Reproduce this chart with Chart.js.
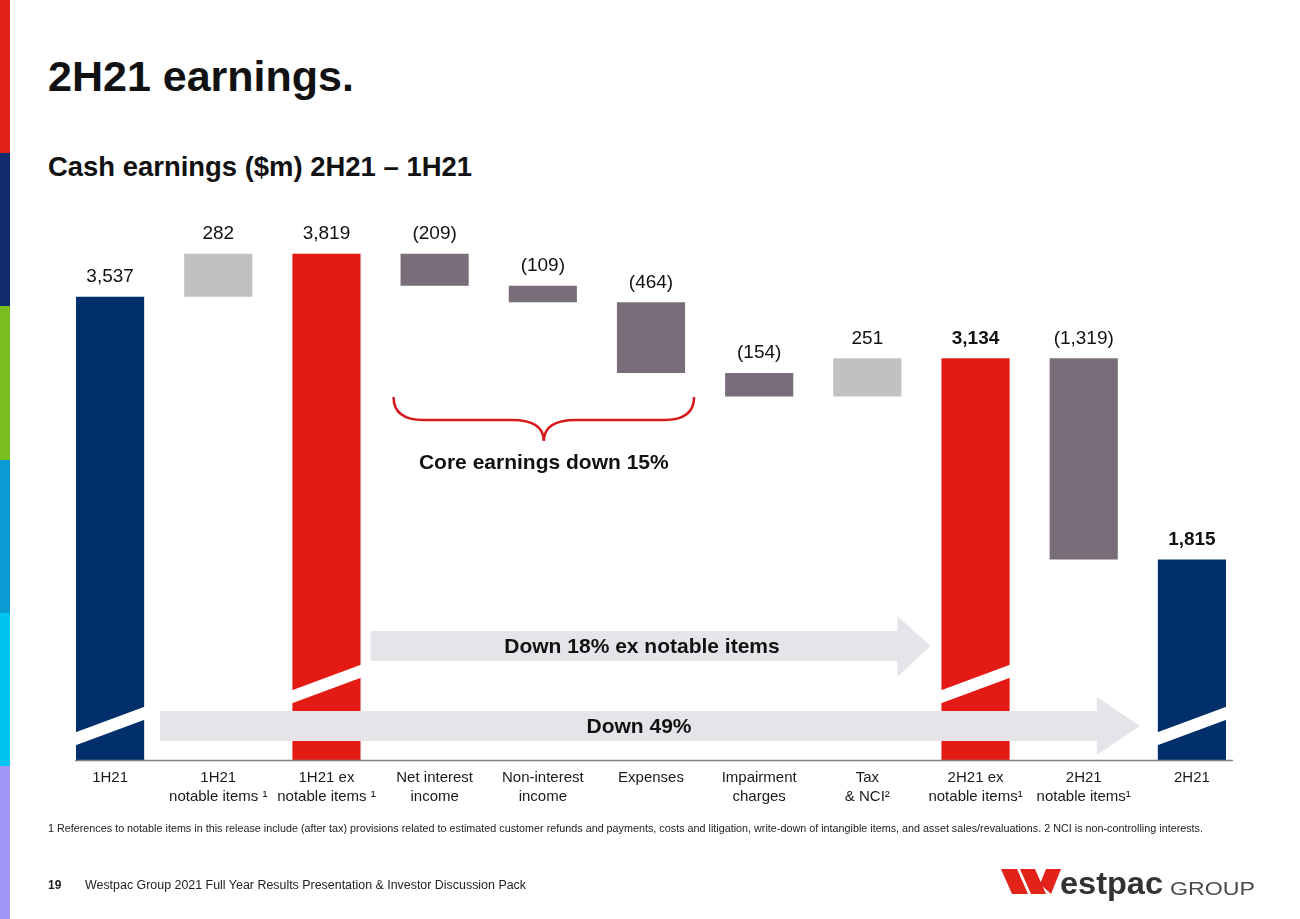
<!DOCTYPE html>
<html>
<head>
<meta charset="utf-8">
<script src="https://cdn.jsdelivr.net/npm/chart.js@4"></script>
<style>
  body { margin: 0; background: #fff; }
  .page { position: relative; width: 1300px; height: 919px; overflow: hidden; font-family: "Liberation Sans", Arial, sans-serif; color: #111; }
  .stripe { position: absolute; left: 0; width: 10px; height: 153.2px; }
  .txt { position: absolute; white-space: nowrap; line-height: 1; transform-origin: left top; }
  #chart { position: absolute; left: 0; top: 0; }
</style>
</head>
<body>
<div class="page">
  <div class="stripe" style="top:0;background:#e2231a"></div>
  <div class="stripe" style="top:153.2px;background:#102c6c"></div>
  <div class="stripe" style="top:306.4px;background:#78be20"></div>
  <div class="stripe" style="top:459.6px;background:#0a9bd2"></div>
  <div class="stripe" style="top:612.8px;background:#00c4f2"></div>
  <div class="stripe" style="top:766px;height:153px;background:#a195f5"></div>

  <div class="txt" style="left:48px;top:55px;font-size:43px;font-weight:bold">2H21 earnings.</div>
  <div class="txt" id="subtitle" style="left:48px;top:154px;font-size:27px;font-weight:bold">Cash earnings ($m) 2H21 – 1H21</div>

  <canvas id="chart" width="1300" height="919"></canvas>

  <div class="txt" id="footnote" style="left:48px;top:824px;font-size:10px;color:#222">1 References to notable items in this release include (after tax) provisions related to estimated customer refunds and payments, costs and litigation, write-down of intangible items, and asset sales/revaluations. 2 NCI is non-controlling interests.</div>
  <div class="txt" style="left:48px;top:879px;font-size:12px;font-weight:bold;color:#222">19</div>
  <div class="txt" id="footer" style="left:85px;top:879px;font-size:12px;color:#222">Westpac Group 2021 Full Year Results Presentation &amp; Investor Discussion Pack</div>

  <svg style="position:absolute;left:0;top:0" width="1300" height="919">
    <polygon points="1001,869 1017,869 1028,894 1012,894" fill="#e2231a"/>
    <polygon points="1020,869 1035,869 1046,894 1031,894" fill="#e2231a"/>
    <polygon points="1046,869 1061,869 1051,894 1040,884" fill="#e2231a"/>
  </svg>
  <div class="txt" id="logo1" style="left:1060px;top:868px;font-size:31px;font-weight:bold;color:#333">estpac</div>
  <div class="txt" id="logo2" style="left:1170px;top:879px;font-size:19px;color:#4a4a4a">GROUP</div>
</div>

<script>
// categories (x-axis), as printed under each bar
const categories = [
  ["1H21"],
  ["1H21", "notable items \u00b9"],
  ["1H21 ex", "notable items \u00b9"],
  ["Net interest", "income"],
  ["Non-interest", "income"],
  ["Expenses"],
  ["Impairment", "charges"],
  ["Tax", "& NCI\u00b2"],
  ["2H21 ex", "notable items\u00b9"],
  ["2H21", "notable items\u00b9"],
  ["2H21"]
];

// cash earnings ($m): totals are levels, steps are movements
const amounts = [3537, 282, 3819, -209, -109, -464, -154, 251, 3134, -1319, 1815];
const kinds = ["total", "step", "total", "step", "step", "step", "step", "step", "total", "step", "total"];
const valueLabels = ["3,537", "282", "3,819", "(209)", "(109)", "(464)", "(154)", "251", "3,134", "(1,319)", "1,815"];
const boldLabels = [false, false, false, false, false, false, false, false, true, false, true];

// axis is broken, bars start at this value
const axisFloor = 500;
const axisTop = 4500;

const NAVY = "#002f6c";
const RED = "#e31b14";
const UP = "#c3c1bf";
const DOWN = "#796d7a";
const totalColors = [NAVY, null, RED, null, null, null, null, null, RED, null, NAVY];

// build floating bar ranges
let running = 0;
const ranges = [];
const colors = [];
amounts.forEach((v, i) => {
  if (kinds[i] === "total") {
    ranges.push([axisFloor, v]);
    colors.push(totalColors[i]);
    running = v;
  } else {
    ranges.push([running, running + v]);
    colors.push(v >= 0 ? UP : DOWN);
    running += v;
  }
});

function drawArrow(ctx, x0, xBody, xTip, bTop, bBot, hTop, hBot) {
  const mid = (bTop + bBot) / 2;
  ctx.beginPath();
  ctx.moveTo(x0, bTop);
  ctx.lineTo(xBody, bTop);
  ctx.lineTo(xBody, hTop);
  ctx.lineTo(xTip, mid);
  ctx.lineTo(xBody, hBot);
  ctx.lineTo(xBody, bBot);
  ctx.lineTo(x0, bBot);
  ctx.closePath();
  ctx.fillStyle = "#e6e4e8";
  ctx.fill();
}

const annotations = {
  id: "annotations",
  afterDatasetsDraw(chart) {
    const ctx = chart.ctx;
    const yS = chart.scales.y;
    const bars = chart.getDatasetMeta(0).data;
    const base = yS.bottom;
    const font = '"Liberation Sans", Arial, sans-serif';
    ctx.save();

    // break marks on the total bars
    bars.forEach((b, i) => {
      if (kinds[i] !== "total") return;
      const off = totalColors[i] === RED ? 63 : 21;
      const l = b.x - b.width / 2 - 1, r = b.x + b.width / 2 + 1;
      const yl = base - off, yr = base - off - 26;
      ctx.beginPath();
      ctx.moveTo(l, yl - 6.5);
      ctx.lineTo(r, yr - 6.5);
      ctx.lineTo(r, yr + 6.5);
      ctx.lineTo(l, yl + 6.5);
      ctx.closePath();
      ctx.fillStyle = "#fff";
      ctx.fill();
    });

    // arrows
    const right = (i) => bars[i].x + bars[i].width / 2;
    const left = (i) => bars[i].x - bars[i].width / 2;
    const t1 = left(8) - 11;
    drawArrow(ctx, right(2) + 10, t1 - 33, t1, base - 129, base - 99, base - 144, base - 83);
    const t2 = left(10) - 18;
    drawArrow(ctx, right(0) + 16, t2 - 43, t2, base - 49, base - 19, base - 63, base - 5);

    ctx.fillStyle = "#111";
    ctx.textAlign = "center";
    ctx.textBaseline = "middle";
    ctx.font = "bold 21px " + font;
    ctx.fillText("Down 18% ex notable items", 642, base - 113);
    ctx.fillText("Down 49%", 639, base - 33);

    // axis line
    ctx.strokeStyle = "#808080";
    ctx.lineWidth = 1.5;
    ctx.beginPath();
    ctx.moveTo(left(0) - 1, base + 0.5);
    ctx.lineTo(right(10) + 7, base + 0.5);
    ctx.stroke();

    // value labels above each bar
    bars.forEach((b, i) => {
      const top = Math.min(b.y, b.base);
      ctx.font = (boldLabels[i] ? "bold " : "") + "19px " + font;
      ctx.fillStyle = "#111";
      ctx.fillText(valueLabels[i], b.x, top - 20);
    });

    // brace under the core earnings movements
    const bx0 = left(3) - 7, bx1 = right(5) + 9;
    const bm = (bx0 + bx1) / 2;
    const by0 = 397, by1 = 420, by2 = 441;
    ctx.strokeStyle = "#d7191c";
    ctx.lineWidth = 2.5;
    ctx.beginPath();
    ctx.moveTo(bx0, by0);
    ctx.quadraticCurveTo(bx0, by1, bx0 + 30, by1);
    ctx.lineTo(bm - 32, by1);
    ctx.quadraticCurveTo(bm, by1, bm, by2);
    ctx.quadraticCurveTo(bm, by1, bm + 32, by1);
    ctx.lineTo(bx1 - 30, by1);
    ctx.quadraticCurveTo(bx1, by1, bx1, by0);
    ctx.stroke();

    ctx.font = "bold 21px " + font;
    ctx.fillStyle = "#111";
    ctx.fillText("Core earnings down 15%", bm, 463);

    ctx.restore();
  }
};

new Chart(document.getElementById("chart"), {
  type: "bar",
  data: {
    labels: categories,
    datasets: [{
      data: ranges,
      backgroundColor: colors,
      borderWidth: 0,
      borderSkipped: false,
      barPercentage: 1,
      categoryPercentage: 0.63
    }]
  },
  options: {
    responsive: false,
    animation: false,
    devicePixelRatio: 1,
    layout: { padding: { left: 56, right: 54, top: 150, bottom: 99 } },
    plugins: {
      legend: { display: false },
      tooltip: { enabled: false }
    },
    scales: {
      x: {
        grid: { display: false, drawTicks: false },
        border: { display: false },
        afterFit: (scale) => { scale.height = 60; },
        ticks: {
          autoSkip: false,
          maxRotation: 0,
          padding: 8,
          color: "#1a1a1a",
          font: { family: '"Liberation Sans", Arial, sans-serif', size: 15, lineHeight: 1.27 }
        }
      },
      y: {
        display: false,
        min: axisFloor,
        max: axisTop
      }
    }
  },
  plugins: [annotations]
});

// squeeze page texts to the widths they have on the slide
function fit(id, w) {
  const el = document.getElementById(id);
  el.style.transform = "scaleX(" + (w / el.getBoundingClientRect().width) + ")";
}
fit("subtitle", 424);
fit("footnote", 1155);
fit("footer", 441);
fit("logo1", 103);
fit("logo2", 85);
</script>
</body>
</html>
